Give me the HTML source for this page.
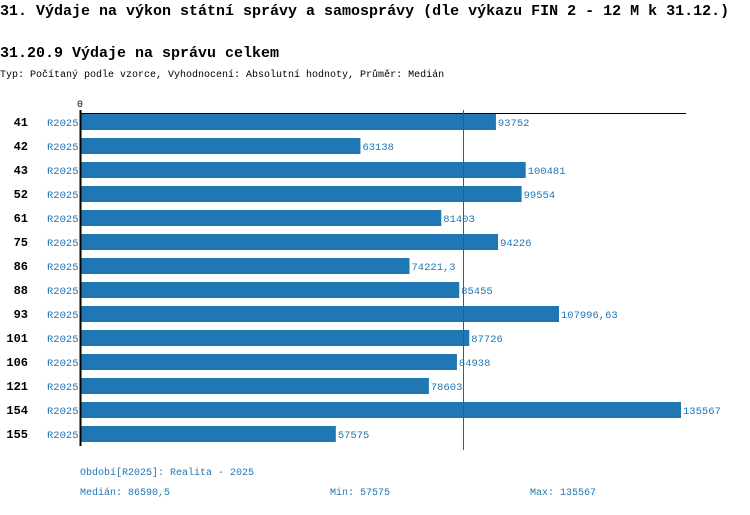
<!DOCTYPE html>
<html><head><meta charset="utf-8"><style>
body{margin:0;background:#fff;width:750px;height:510px;overflow:hidden}
svg text{font-family:"Liberation Mono","DejaVu Sans Mono",monospace}
</style></head><body>
<svg width="750" height="510" xmlns="http://www.w3.org/2000/svg">
<text x="0" y="15" font-size="15" font-weight="bold" fill="#000">31. Výdaje na výkon státní správy a samosprávy (dle výkazu FIN 2 - 12 M k 31.12.)</text>
<text x="0" y="57" font-size="15" font-weight="bold" fill="#000">31.20.9 Výdaje na správu celkem</text>
<text x="0" y="77" font-size="10" fill="#000">Typ: Počítaný podle vzorce, Vyhodnocení: Absolutní hodnoty, Průměr: Medián</text>
<text x="80" y="107" font-size="10" text-anchor="middle" fill="#000">0</text>
<g id="bars"></g>
<line x1="80" y1="113.5" x2="686" y2="113.5" stroke="#000" stroke-width="1"/>
<line x1="80.5" y1="110" x2="80.5" y2="446" stroke="#000" stroke-width="2"/>
<line id="med" y1="110" y2="450" stroke="#555" stroke-width="1"/>
<text x="80" y="475" font-size="10" fill="#1f77b4">Období[R2025]: Realita - 2025</text>
<text x="80" y="495" font-size="10" fill="#1f77b4">Medián: 86590,5</text>
<text x="330" y="495" font-size="10" fill="#1f77b4">Min: 57575</text>
<text x="530" y="495" font-size="10" fill="#1f77b4">Max: 135567</text>
</svg>
<script>
const categories=["41","42","43","52","61","75","86","88","93","101","106","121","154","155"];
const values=[93752,63138,100481,99554,81403,94226,74221.3,85455,107996.63,87726,84938,78603,135567,57575];
const valueLabels=["93752","63138","100481","99554","81403","94226","74221,3","85455","107996,63","87726","84938","78603","135567","57575"];
const median=86590.5;
const NS="http://www.w3.org/2000/svg";
const x0=81,xmax=681,maxV=135567;
const xs=v=>x0+(v/maxV)*(xmax-x0);
const ys=i=>114+i*24;
const g=document.getElementById('bars');
function mk(t,a){const e=document.createElementNS(NS,t);for(const k in a)e.setAttribute(k,a[k]);return e;}
categories.forEach((c,i)=>{
 const y=ys(i);
 const lab=mk('text',{x:28,y:y+12,'font-size':12,'font-weight':'bold','text-anchor':'end',fill:'#000'});
 lab.textContent=c;
 
 
 g.appendChild(lab);
 const s=mk('text',{x:47,y:y+12,'font-size':10.5,fill:'#1f77b4'});
 s.textContent='R2025';
 
 
 g.appendChild(s);
 const r=mk('rect',{x:x0,y:y,width:xs(values[i])-x0,height:16,fill:'#1f77b4'});
 
 
 g.appendChild(r);
 const v=mk('text',{x:xs(values[i])+2,y:y+12,'font-size':10.5,fill:'#1f77b4'});
 v.textContent=valueLabels[i];
 
 
 g.appendChild(v);
});
const m=document.getElementById('med');
m.setAttribute('x1',Math.round(xs(median))-0.5);
m.setAttribute('x2',Math.round(xs(median))-0.5);
</script>
</body></html>
